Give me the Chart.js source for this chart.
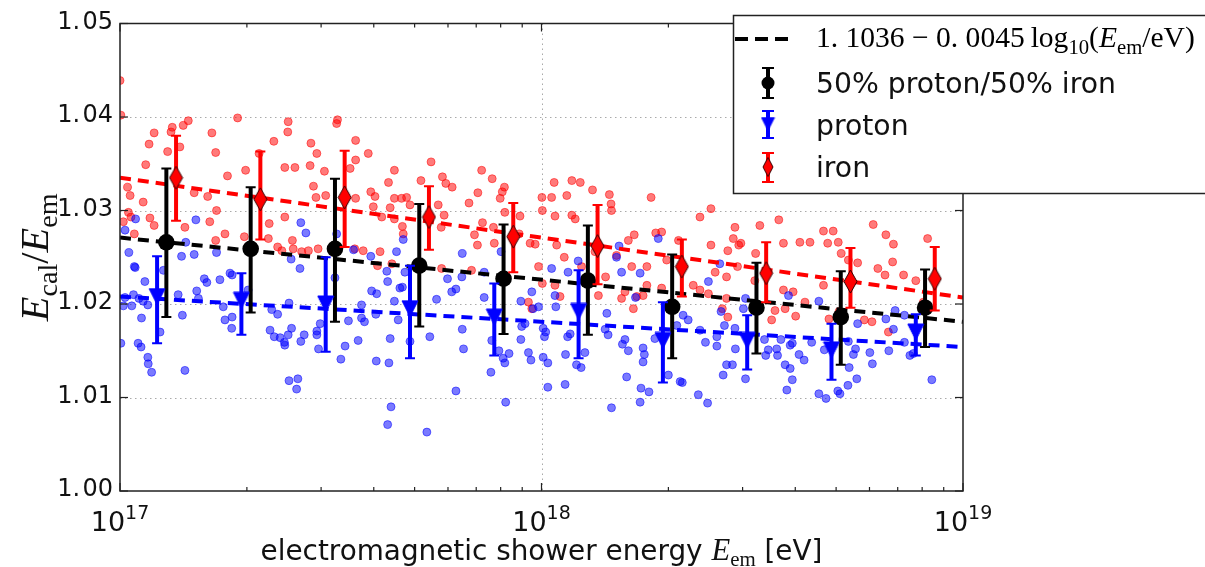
<!DOCTYPE html>
<html>
<head>
<meta charset="utf-8">
<script src="https://cdn.jsdelivr.net/npm/chart.js@4.4.1/dist/chart.umd.min.js"></script>
<style>
  html, body { margin: 0; padding: 0; background: #fff; }
  #wrap { width: 1205px; height: 567px; }
</style>
</head>
<body>
<div id="wrap"><canvas id="chart" width="1205" height="567"></canvas></div>
<script>
// axes
const xTickExp = [17, 18, 19];
const xMinorMult = [2, 3, 4, 5, 6, 7, 8, 9];
const yTickVals = [1.00, 1.01, 1.02, 1.03, 1.04, 1.05];
const yTickText = ['1.\u200a00', '1.\u200a01', '1.\u200a02', '1.\u200a03', '1.\u200a04', '1.\u200a05'];

// binned means (log10 E) with error bar ends
const mixE  = [17.11, 17.31, 17.51, 17.71, 17.91, 18.11, 18.31, 18.51, 18.71, 18.91];
const mixY  = [1.0266, 1.0259, 1.0259, 1.0241, 1.0227, 1.0225, 1.0197, 1.0196, 1.0186, 1.0196];
const mixLo = [1.0186, 1.0191, 1.0181, 1.0176, 1.0168, 1.0167, 1.0142, 1.0147, 1.0135, 1.0154];
const mixHi = [1.0345, 1.0325, 1.0334, 1.0307, 1.0285, 1.0284, 1.0253, 1.0244, 1.0235, 1.0237];

const protonE  = [17.088, 17.288, 17.488, 17.688, 17.888, 18.088, 18.288, 18.488, 18.688, 18.888];
const protonY  = [1.0208, 1.0204, 1.0200, 1.0195, 1.0186, 1.0192, 1.0161, 1.0161, 1.0151, 1.0170];
const protonLo = [1.0158, 1.0167, 1.0149, 1.0142, 1.0145, 1.0142, 1.0116, 1.0130, 1.0119, 1.0145];
const protonHi = [1.0251, 1.0233, 1.0250, 1.0241, 1.0222, 1.0236, 1.0202, 1.0188, 1.0179, 1.0189];

const ironE  = [17.133, 17.333, 17.533, 17.733, 17.933, 18.133, 18.333, 18.533, 18.733, 18.933];
const ironY  = [1.0335, 1.0312, 1.0314, 1.0293, 1.0272, 1.0262, 1.0240, 1.0233, 1.0224, 1.0227];
const ironLo = [1.0289, 1.0269, 1.0261, 1.0258, 1.0234, 1.0221, 1.0208, 1.0202, 1.0196, 1.0193];
const ironHi = [1.0380, 1.0363, 1.0364, 1.0326, 1.0308, 1.0306, 1.0269, 1.0266, 1.0260, 1.0261];

// fitted lines, ends at 1e17 and 1e19
const fitE = [17, 19];
const fitMix = [1.0271, 1.0181];
const fitProton = [1.0208, 1.0154];
const fitIron = [1.0335, 1.0207];

// single showers [log10 E, Ecal/Eem]
const ironScatter = [
  [17.000,1.0439],[17.002,1.0402],[17.081,1.0383],[17.069,1.0371],[17.061,1.0349],[17.018,1.0325],[17.024,1.0316],
  [17.055,1.0309],[17.020,1.0298],[17.026,1.0293],[17.008,1.0288],[17.034,1.0275],[17.071,1.0292],[17.081,1.0284],
  [17.124,1.0389],[17.121,1.0384],[17.113,1.0363],[17.142,1.0368],[17.150,1.0391],[17.162,1.0396],[17.176,1.0319],
  [17.154,1.0282],[17.208,1.0315],[17.218,1.0383],[17.227,1.0362],[17.213,1.0288],[17.229,1.0300],[17.249,1.0275],
  [17.227,1.0268],[17.255,1.0337],[17.279,1.0399],[17.298,1.0343],[17.295,1.0272],[17.330,1.0361],[17.365,1.0374],
  [17.354,1.0286],[17.352,1.0270],[17.391,1.0346],[17.415,1.0346],[17.391,1.0293],[17.399,1.0395],[17.398,1.0384],
  [17.409,1.0268],[17.374,1.0261],[17.384,1.0257],[17.411,1.0259],[17.453,1.0372],[17.467,1.0361],[17.451,1.0348],
  [17.485,1.0342],[17.459,1.0326],[17.465,1.0314],[17.488,1.0316],[17.516,1.0397],[17.514,1.0393],[17.559,1.0375],
  [17.559,1.0354],[17.589,1.0361],[17.546,1.0345],[17.559,1.0313],[17.595,1.0320],[17.605,1.0315],[17.601,1.0304],
  [17.637,1.0330],[17.651,1.0343],[17.651,1.0313],[17.641,1.0303],[17.621,1.0293],[17.651,1.0291],[17.447,1.0257],
  [17.470,1.0259],[17.557,1.0259],[17.577,1.0257],[17.617,1.0256],[17.611,1.0241],[17.645,1.0243],[17.431,1.0256],
  [17.738,1.0352],[17.714,1.0332],[17.765,1.0336],[17.773,1.0329],[17.788,1.0325],[17.755,1.0306],[17.769,1.0295],
  [17.762,1.0282],[17.668,1.0313],[17.680,1.0314],[17.688,1.0306],[17.670,1.0283],[17.672,1.0275],[17.828,1.0308],
  [17.849,1.0319],[17.858,1.0343],[17.883,1.0334],[17.912,1.0325],[17.907,1.0320],[17.902,1.0313],[17.913,1.0298],
  [17.949,1.0294],[17.841,1.0274],[17.848,1.0263],[17.860,1.0287],[17.888,1.0265],[17.886,1.0282],[17.947,1.0275],
  [17.973,1.0265],[17.985,1.0264],[18.001,1.0314],[18.024,1.0314],[18.002,1.0300],[18.032,1.0294],[18.030,1.0330],
  [18.060,1.0316],[18.072,1.0332],[18.092,1.0330],[18.072,1.0295],[18.080,1.0291],[18.121,1.0322],[18.161,1.0317],
  [18.165,1.0307],[18.166,1.0300],[18.260,1.0314],[18.271,1.0276],[18.285,1.0277],[18.325,1.0268],[18.220,1.0274],
  [18.206,1.0268],[18.036,1.0263],[18.054,1.0250],[17.993,1.0240],[18.095,1.0240],[18.127,1.0256],[18.178,1.0252],
  [18.250,1.0240],[18.214,1.0240],[18.297,1.0247],
  [18.376,1.0293],[18.402,1.0302],[18.402,1.0263],[18.442,1.0257],[18.455,1.0270],[18.459,1.0282],[18.468,1.0263],
  [18.473,1.0265],[18.518,1.0284],[18.563,1.0290],[18.508,1.0254],[18.574,1.0265],[18.613,1.0266],[18.637,1.0266],
  [18.669,1.0278],[18.692,1.0278],[18.679,1.0265],[18.704,1.0266],[18.711,1.0254],[18.728,1.0247],[18.750,1.0244],
  [18.787,1.0285],[18.817,1.0274],[18.835,1.0264],[18.833,1.0245],[18.916,1.0270],
  [18.002,1.0222],[18.032,1.0220],[18.044,1.0208],[17.969,1.0202],[17.977,1.0195],[18.135,1.0209],[18.152,1.0229],
  [18.190,1.0206],[18.198,1.0213],[18.218,1.0195],[18.226,1.0208],[18.241,1.0209],[18.250,1.0220],[18.285,1.0217],
  [17.763,1.0238],[17.834,1.0236],
  [18.360,1.0220],[18.376,1.0215],[18.396,1.0211],[18.412,1.0234],[18.439,1.0229],[18.429,1.0195],[18.442,1.0186],
  [18.439,1.0206],[18.465,1.0240],[18.506,1.0225],[18.546,1.0183],[18.554,1.0193],[18.578,1.0195],[18.574,1.0215],
  [18.597,1.0213],[18.603,1.0187],[18.625,1.0202],[18.669,1.0220],[18.682,1.0184],[18.706,1.0192],[18.766,1.0183],
  [18.784,1.0181],[18.798,1.0238],[18.815,1.0231],[18.859,1.0231],[18.888,1.0225],[18.823,1.0170],[18.906,1.0202]
];

const protonScatter = [
  [17.037,1.0291],[17.012,1.0279],[17.021,1.0255],[17.034,1.0240],[17.180,1.0290],[17.156,1.0266],[17.146,1.0251],
  [17.176,1.0253],[17.229,1.0255],[17.429,1.0287],[17.441,1.0276],[17.514,1.0275],[17.554,1.0258],[17.595,1.0251],
  [17.656,1.0256],[17.406,1.0248],
  [17.672,1.0269],[17.812,1.0254],[17.904,1.0256],[18.087,1.0246],[18.184,1.0262],[18.178,1.0250],[18.277,1.0270],
  [18.423,1.0243],
  [17.036,1.0239],[17.059,1.0224],[17.032,1.0210],[17.012,1.0207],[17.008,1.0198],[17.028,1.0198],[17.045,1.0206],
  [17.055,1.0203],[17.066,1.0199],[17.051,1.0185],[17.002,1.0158],[17.043,1.0158],[17.050,1.0154],[17.066,1.0143],
  [17.067,1.0136],[17.075,1.0127],[17.095,1.0170],[17.103,1.0236],[17.138,1.0210],[17.148,1.0188],[17.154,1.0129],
  [17.182,1.0214],[17.186,1.0206],[17.200,1.0227],[17.206,1.0223],[17.237,1.0226],[17.261,1.0233],[17.266,1.0231],
  [17.245,1.0197],[17.249,1.0183],[17.266,1.0186],[17.265,1.0174],[17.304,1.0215],[17.356,1.0172],[17.366,1.0165],
  [17.380,1.0164],[17.391,1.0156],[17.390,1.0159],[17.399,1.0167],[17.407,1.0174],[17.360,1.0194],[17.374,1.0189],
  [17.401,1.0201],[17.401,1.0118],[17.422,1.0120],[17.419,1.0109],[17.429,1.0160],[17.437,1.0167],[17.427,1.0238],
  [17.467,1.0171],[17.467,1.0167],[17.475,1.0179],[17.471,1.0152],[17.510,1.0228],[17.524,1.0141],[17.534,1.0155],
  [17.542,1.0182],[17.565,1.0161],[17.573,1.0199],[17.573,1.0185],[17.580,1.0181],[17.597,1.0214],[17.609,1.0211],
  [17.607,1.0189],[17.608,1.0139],[17.638,1.0137],[17.641,1.0163],[17.651,1.0203],[17.635,1.0224],[17.633,1.0235],
  [17.660,1.0183],[17.643,1.0090],[17.635,1.0071],[17.664,1.0217],
  [17.676,1.0234],[17.670,1.0218],[17.688,1.0160],[17.728,1.0063],[17.735,1.0165],[17.751,1.0205],[17.777,1.0227],
  [17.787,1.0213],[17.797,1.0216],[17.811,1.0229],[17.812,1.0173],[17.815,1.0152],[17.797,1.0107],[17.864,1.0207],
  [17.864,1.0234],[17.880,1.0127],[17.882,1.0161],[17.899,1.0150],[17.909,1.0142],[17.913,1.0137],[17.923,1.0147],
  [17.915,1.0095],[17.951,1.0162],[17.953,1.0176],[17.961,1.0179],[17.969,1.0148],[17.975,1.0140],[17.951,1.0203],
  [17.977,1.0213],[17.980,1.0195],[17.993,1.0197],[18.004,1.0174],[18.010,1.0170],[18.007,1.0165],[18.004,1.0143],
  [18.015,1.0137],[18.015,1.0111],[18.056,1.0114],[18.057,1.0146],[18.062,1.0165],[18.068,1.0168],[18.034,1.0197],
  [18.032,1.0209],[18.024,1.0238],[18.063,1.0234],[18.083,1.0135],[18.094,1.0132],[18.103,1.0148],[18.155,1.0190],
  [18.151,1.0173],[18.158,1.0167],[18.166,1.0089],[18.190,1.0234],[18.198,1.0162],[18.192,1.0157],[18.206,1.0150],
  [18.202,1.0122],[18.234,1.0233],[18.223,1.0207],[18.241,1.0153],[18.244,1.0146],[18.241,1.0138],[18.236,1.0110],
  [18.255,1.0106],[18.234,1.0095],[18.269,1.0163],[18.301,1.0124],[18.329,1.0117],
  [18.336,1.0188],[18.348,1.0183],[18.321,1.0177],[18.334,1.0116],[18.372,1.0103],[18.394,1.0094],[18.376,1.0172],
  [18.389,1.0159],[18.416,1.0165],[18.416,1.0155],[18.426,1.0192],[18.434,1.0177],[18.396,1.0224],[18.439,1.0135],
  [18.431,1.0124],[18.453,1.0135],[18.459,1.0174],[18.460,1.0152],[18.479,1.0195],[18.484,1.0206],[18.484,1.0120],
  [18.529,1.0162],[18.532,1.0145],[18.538,1.0151],[18.558,1.0152],[18.560,1.0145],[18.568,1.0162],[18.578,1.0135],
  [18.590,1.0131],[18.586,1.0209],[18.590,1.0156],[18.595,1.0158],[18.595,1.0119],[18.582,1.0108],[18.611,1.0146],
  [18.623,1.0140],[18.641,1.0159],[18.658,1.0203],[18.658,1.0104],[18.671,1.0151],[18.675,1.0099],[18.703,1.0107],
  [18.708,1.0104],[18.727,1.0113],[18.730,1.0132],[18.740,1.0146],[18.745,1.0152],[18.748,1.0120],[18.750,1.0179],
  [18.779,1.0148],[18.785,1.0136],[18.817,1.0184],[18.839,1.0193],[18.824,1.0150],[18.835,1.0173],[18.861,1.0188],
  [18.861,1.0159],[18.874,1.0145],[18.882,1.0147],[18.926,1.0119],[18.728,1.0160]
];

const sans = '"DejaVu Sans", sans-serif';
const serif = '"Liberation Serif", "DejaVu Serif", serif';

const toE = v => Math.pow(10, v);
const pts = list => list.map(p => ({ x: toE(p[0]), y: p[1] }));
const means = (e, v) => e.map((x, i) => ({ x: toE(x), y: v[i] }));
function errBars(e, lo, hi) {
  const out = [];
  e.forEach((x, i) => {
    out.push({ x: toE(x), y: lo[i] }, { x: toE(x), y: hi[i] }, { x: toE(x), y: null });
  });
  return out;
}

// marker images
function downTriangle(w, color) {
  const c = document.createElement('canvas');
  c.width = w + 2; c.height = w + 2;
  const g = c.getContext('2d');
  g.fillStyle = color; g.strokeStyle = color; g.lineWidth = 1;
  g.beginPath(); g.moveTo(1, 1); g.lineTo(w + 1, 1); g.lineTo(w / 2 + 1, w + 1); g.closePath();
  g.fill(); g.stroke();
  return c;
}
function thinDiamond(w, h, color) {
  const c = document.createElement('canvas');
  c.width = w + 2; c.height = h + 2;
  const g = c.getContext('2d');
  g.fillStyle = color; g.strokeStyle = '#300'; g.lineWidth = 1;
  g.beginPath(); g.moveTo(w / 2 + 1, 1); g.lineTo(w + 1, h / 2 + 1); g.lineTo(w / 2 + 1, h + 1); g.lineTo(1, h / 2 + 1); g.closePath();
  g.fill(); g.stroke();
  return c;
}
const triImg = downTriangle(16, '#0000ff');
const diaImg = thinDiamond(13, 23, '#ff0000');
const triSmall = downTriangle(13, '#0000ff');
const diaSmall = thinDiamond(10, 19, '#ff0000');

function runsWidth(ctx, runs) {
  let w = 0;
  runs.forEach(r => { ctx.font = r.font; w += ctx.measureText(r.t).width; });
  return w;
}
function drawRuns(ctx, x, y, runs) {
  runs.forEach(r => {
    ctx.font = r.font;
    ctx.fillText(r.t, x, y + (r.dy || 0));
    x += ctx.measureText(r.t).width;
  });
}
function fitRuns(ctx, make, target) {
  const w = runsWidth(ctx, make(20));
  return make(20 * target / w);
}

const mathLegend = s => [
  { t: '1. 1036 \u2212 0. 0045\u2009', font: `${s}px ${serif}` },
  { t: 'log', font: `${s}px ${serif}` },
  { t: '10', font: `${s * 0.7}px ${serif}`, dy: s * 0.25 },
  { t: '(', font: `${s}px ${serif}` },
  { t: 'E', font: `italic ${s}px ${serif}` },
  { t: 'em', font: `${s * 0.7}px ${serif}`, dy: s * 0.25 },
  { t: '/eV)', font: `${s}px ${serif}` }
];
const xTitle = s => [
  { t: 'electromagnetic shower energy ', font: `${s}px ${sans}` },
  { t: 'E', font: `italic ${s * 1.1}px ${serif}` },
  { t: 'em', font: `${s * 0.75}px ${serif}`, dy: s * 0.22 },
  { t: ' [eV]', font: `${s}px ${sans}` }
];
const yTitle = s => [
  { t: 'E', font: `italic ${s}px ${serif}` },
  { t: 'cal', font: `${s * 0.7}px ${serif}`, dy: s * 0.22 },
  { t: '/', font: `${s}px ${serif}` },
  { t: 'E', font: `italic ${s}px ${serif}` },
  { t: 'em', font: `${s * 0.7}px ${serif}`, dy: s * 0.22 }
];

function seg(ctx, x1, y1, x2, y2) { ctx.beginPath(); ctx.moveTo(x1, y1); ctx.lineTo(x2, y2); ctx.stroke(); }

function legendBar(ctx, x, y1, y2, color) {
  ctx.strokeStyle = color;
  ctx.lineWidth = 4; seg(ctx, x, y1, x, y2);
  ctx.lineWidth = 2; seg(ctx, x - 6, y1, x + 6, y1); seg(ctx, x - 6, y2, x + 6, y2);
}

const decor = {
  id: 'decor',
  beforeDatasetsDraw(chart) {
    const { ctx, chartArea: a, scales: { x, y } } = chart;
    ctx.save();
    ctx.strokeStyle = '#aaaaaa'; ctx.lineWidth = 1; ctx.setLineDash([1.5, 3.5]);
    yTickVals.slice(1, -1).forEach(v => {
      const py = Math.round(y.getPixelForValue(v)) + 0.5;
      seg(ctx, a.left, py, a.right, py);
    });
    xTickExp.slice(1, -1).forEach(e => {
      const px = Math.round(x.getPixelForValue(toE(e))) + 0.5;
      seg(ctx, px, a.top, px, a.bottom);
    });
    ctx.restore();
  },
  afterDatasetsDraw(chart) {
    const { ctx, chartArea: a, scales: { x, y } } = chart;
    ctx.save();
    ctx.strokeStyle = '#222'; ctx.lineWidth = 1.5;
    ctx.strokeRect(a.left, a.top, a.right - a.left, a.bottom - a.top);
    // ticks
    ctx.lineWidth = 1.2;
    yTickVals.forEach(v => {
      const py = y.getPixelForValue(v);
      seg(ctx, a.left, py, a.left + 8, py);
      seg(ctx, a.right, py, a.right - 8, py);
    });
    xTickExp.forEach(e => {
      const px = x.getPixelForValue(toE(e));
      seg(ctx, px, a.bottom, px, a.bottom - 8);
      seg(ctx, px, a.top, px, a.top + 8);
    });
    xTickExp.slice(0, -1).forEach(e => {
      xMinorMult.forEach(m => {
        const px = x.getPixelForValue(m * toE(e));
        seg(ctx, px, a.bottom, px, a.bottom - 4);
        seg(ctx, px, a.top, px, a.top + 4);
      });
    });
    // tick labels
    ctx.fillStyle = '#111';
    ctx.font = `24px ${sans}`;
    ctx.textAlign = 'right'; ctx.textBaseline = 'middle';
    yTickVals.forEach((v, i) => ctx.fillText(yTickText[i], a.left - 7, y.getPixelForValue(v) - 1));
    ctx.textAlign = 'left'; ctx.textBaseline = 'alphabetic';
    xTickExp.forEach(e => {
      const runs = [
        { t: '10', font: `27px ${sans}` },
        { t: String(e), font: `19px ${sans}`, dy: -12 }
      ];
      const w = runsWidth(ctx, runs);
      drawRuns(ctx, x.getPixelForValue(toE(e)) - w / 2, 531, runs);
    });
    // axis titles
    const xr = fitRuns(ctx, xTitle, 562);
    drawRuns(ctx, (a.left + a.right) / 2 - runsWidth(ctx, xr) / 2, 560, xr);
    const yr = fitRuns(ctx, yTitle, 128);
    ctx.translate(48, (a.top + a.bottom) / 2);
    ctx.rotate(-Math.PI / 2);
    drawRuns(ctx, -runsWidth(ctx, yr) / 2, 0, yr);
    ctx.restore();
  },
  afterDraw(chart) {
    const { ctx } = chart;
    ctx.save();
    ctx.fillStyle = '#fff';
    ctx.fillRect(733, 15, 480, 178);
    ctx.strokeStyle = '#222'; ctx.lineWidth = 1.5;
    ctx.strokeRect(733.5, 15.5, 480, 178);
    // row 1: fit line
    ctx.strokeStyle = '#000'; ctx.lineWidth = 4; ctx.setLineDash([13, 7]);
    seg(ctx, 735, 39, 789, 39);
    ctx.setLineDash([]);
    ctx.fillStyle = '#000';
    drawRuns(ctx, 816, 47, fitRuns(ctx, mathLegend, 379));
    // row 2..4 markers
    const mx = 768;
    legendBar(ctx, mx, 68, 98, '#000');
    ctx.fillStyle = '#000';
    ctx.beginPath(); ctx.arc(mx, 83, 6.5, 0, Math.PI * 2); ctx.fill();
    legendBar(ctx, mx, 111, 138, '#0000ff');
    ctx.drawImage(triSmall, mx - triSmall.width / 2, 124 - triSmall.height / 2);
    legendBar(ctx, mx, 153, 182, '#ff0000');
    ctx.drawImage(diaSmall, mx - diaSmall.width / 2, 167 - diaSmall.height / 2);
    // labels
    ctx.fillStyle = '#111';
    ctx.font = `24px ${sans}`;
    const s = 24 * 300 / ctx.measureText('50% proton/50% iron').width;
    ctx.font = `${s}px ${sans}`;
    ctx.fillText('50% proton/50% iron', 816, 93);
    ctx.fillText('proton', 816, 135);
    ctx.fillText('iron', 816, 177);
    ctx.restore();
  }
};

const scatterStyle = color => ({
  type: 'scatter',
  pointRadius: 4,
  pointBorderWidth: 1,
  pointBackgroundColor: color,
  pointBorderColor: color,
  clip: 0
});
const fitStyle = color => ({
  type: 'line',
  borderColor: color,
  borderWidth: 4,
  borderDash: [11, 7],
  pointRadius: 0,
  fill: false
});
const barStyle = color => ({
  type: 'line',
  borderColor: color,
  borderWidth: 4,
  spanGaps: false,
  pointStyle: 'line',
  pointRadius: 5,
  pointBorderWidth: 2,
  pointBorderColor: color,
  fill: false
});

new Chart(document.getElementById('chart'), {
  type: 'scatter',
  data: {
    datasets: [
      Object.assign(scatterStyle('rgba(255,0,0,0.52)'), { label: 'iron showers', data: pts(ironScatter), order: 20 }),
      Object.assign(scatterStyle('rgba(0,0,255,0.52)'), { label: 'proton showers', data: pts(protonScatter), order: 19 }),
      Object.assign(fitStyle('#ff0000'), { label: 'iron fit', data: means(fitE, fitIron), order: 12 }),
      Object.assign(fitStyle('#0000ff'), { label: 'proton fit', data: means(fitE, fitProton), order: 11 }),
      Object.assign(fitStyle('#000000'), { label: '1.1036 - 0.0045 log10(Eem/eV)', data: means(fitE, fitMix), order: 10 }),
      Object.assign(barStyle('#000000'), { label: 'mix err', data: errBars(mixE, mixLo, mixHi), order: 8 }),
      { type: 'scatter', label: '50% proton/50% iron', data: means(mixE, mixY), pointStyle: 'circle',
        pointRadius: 8.3, pointBackgroundColor: '#000', pointBorderColor: '#000', pointBorderWidth: 0, order: 7 },
      Object.assign(barStyle('#0000ff'), { label: 'proton err', data: errBars(protonE, protonLo, protonHi), order: 6 }),
      { type: 'scatter', label: 'proton', data: means(protonE, protonY), pointStyle: triImg, order: 5 },
      Object.assign(barStyle('#ff0000'), { label: 'iron err', data: errBars(ironE, ironLo, ironHi), order: 4 }),
      { type: 'scatter', label: 'iron', data: means(ironE, ironY), pointStyle: diaImg, order: 3 }
    ]
  },
  options: {
    responsive: false,
    animation: false,
    events: [],
    layout: { autoPadding: false, padding: { left: 0, right: 242, top: 23.5, bottom: 0 } },
    plugins: { legend: { display: false }, tooltip: { enabled: false } },
    scales: {
      x: {
        type: 'logarithmic', min: 1e17, max: 1e19,
        grid: { display: false }, border: { display: false }, ticks: { display: false },
        afterFit: s => { s.height = 76; }
      },
      y: {
        type: 'linear', min: 1.0, max: 1.05,
        grid: { display: false }, border: { display: false }, ticks: { display: false },
        afterFit: s => { s.width = 120; }
      }
    }
  },
  plugins: [decor]
});
</script>
</body>
</html>
